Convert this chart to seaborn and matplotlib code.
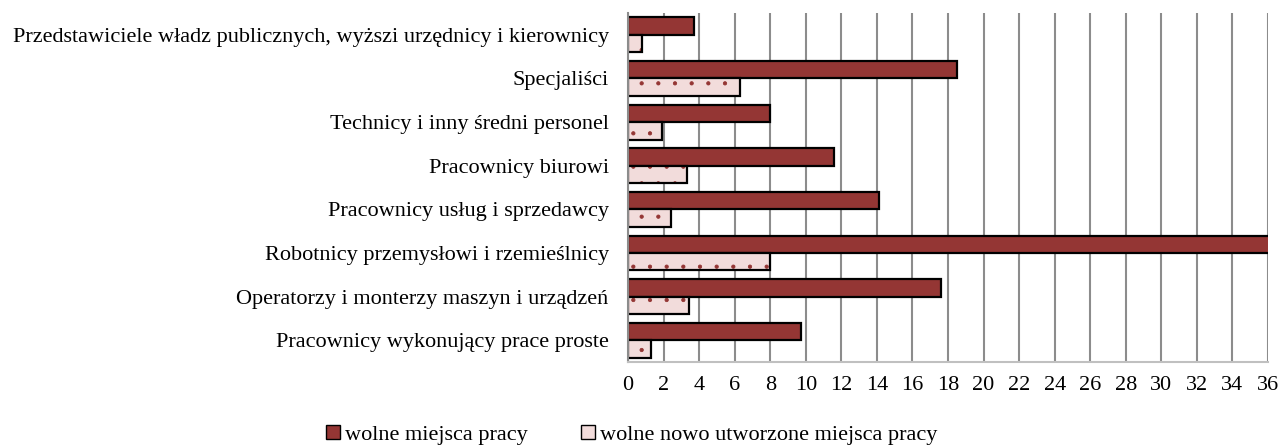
import pandas as pd
import numpy as np
import matplotlib.pyplot as plt
import matplotlib.colors as mcolors
from matplotlib.patches import Patch
import seaborn as sns

categories = [
    "Przedstawiciele władz publicznych, wyższi urzędnicy i kierownicy",
    "Specjaliści",
    "Technicy i inny średni personel",
    "Pracownicy biurowi",
    "Pracownicy usług i sprzedawcy",
    "Robotnicy przemysłowi i rzemieślnicy",
    "Operatorzy i monterzy maszyn i urządzeń",
    "Pracownicy wykonujący prace proste",
]
wolne = [3.7, 18.5, 8.0, 11.6, 14.1, 36.1, 17.6, 9.7]
nowe = [0.8, 6.3, 1.9, 3.3, 2.4, 8.0, 3.4, 1.3]
series_names = ["wolne miejsca pracy", "wolne nowo utworzone miejsca pracy"]
xticks = list(range(0, 37, 2))

dark = "#943634"
light = "#F2DCDB"

df = pd.DataFrame({
    "kategoria": categories * 2,
    "wartosc": wolne + nowe,
    "seria": [series_names[0]] * len(categories) + [series_names[1]] * len(categories),
})

sns.set_style("white")
plt.rcParams["font.family"] = ["Liberation Serif", "DejaVu Serif"]
plt.rcParams["text.color"] = "black"
plt.rcParams["xtick.color"] = "black"
plt.rcParams["ytick.color"] = "black"
plt.rcParams["hatch.linewidth"] = 0.6

fig, ax = plt.subplots(figsize=(12.82, 4.46), dpi=100)
fig.subplots_adjust(left=0.49, right=0.989, top=0.971, bottom=0.188)

sns.barplot(data=df, y="kategoria", x="wartosc", hue="seria", orient="h",
            palette=[dark, light], edgecolor="black", linewidth=1.6,
            saturation=1, width=0.8, ax=ax, legend=False)

# sparse dots on the light bars
n = len(categories)
for p in ax.patches[n:2 * n]:
    p.set_hatch(".")
    p._hatch_color = mcolors.to_rgba(dark)

ax.set_xlim(0, 36)
ax.set_xticks(xticks)
ax.set_xlabel("")
ax.set_ylabel("")
ax.tick_params(axis="x", labelsize=16, length=0, pad=10)
ax.tick_params(axis="y", labelsize=16, length=0, pad=14)
ax.xaxis.grid(True, color="#8c8c8c", linewidth=1.5)
ax.set_axisbelow(True)
for s in ["top", "right"]:
    ax.spines[s].set_visible(False)
ax.spines["left"].set_color("#8c8c8c")
ax.spines["left"].set_linewidth(1.5)
ax.spines["bottom"].set_color("#c0c0c0")
ax.spines["bottom"].set_linewidth(1.5)

handles = [Patch(facecolor=dark, edgecolor="black", linewidth=1),
           Patch(facecolor=light, edgecolor="black", linewidth=1)]
fig.legend(handles, series_names, loc="center", bbox_to_anchor=(0.493, 0.024),
           ncol=2, frameon=False, fontsize=16, handlelength=0.6, handleheight=0.6,
           handletextpad=0.25, columnspacing=2.4)

plt.savefig("out.png", dpi=100)
